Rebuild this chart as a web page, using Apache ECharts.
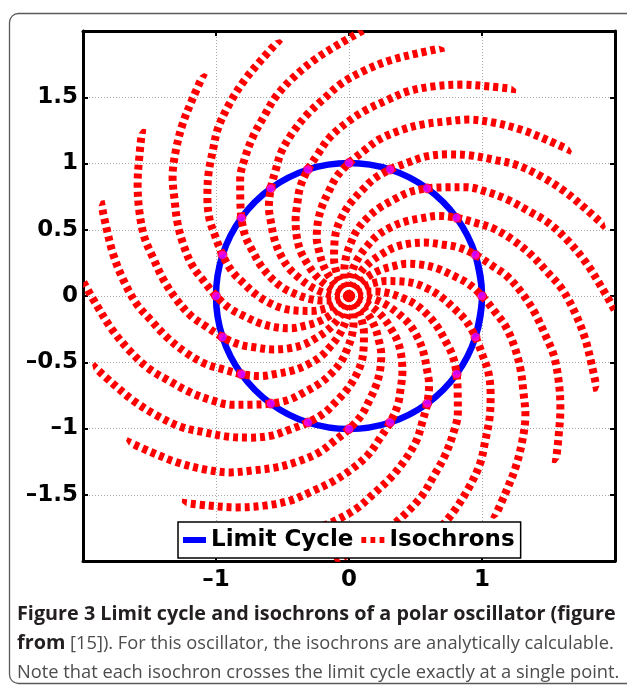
<!DOCTYPE html>
<html>
<head>
<meta charset="utf-8">
<script src="https://cdn.jsdelivr.net/npm/echarts@6/dist/echarts.min.js"></script>
<style>
html,body{margin:0;padding:0;background:#fff;}
#chart{width:627px;height:687px;}
</style>
</head>
<body>
<div id="chart"></div>
<script>
// ---- data ----
// angles (deg) where the 20 isochrons cross the limit cycle (magenta points)
const crossAngles = [0, 18, 36, 54, 72, 90, 108, 126, 144, 162, 180, 198, 216, 234, 252, 270, 288, 306, 324, 342];
// limit cycle radius
const limitCycleRadius = 1;
// isochron profile: radius samples and angular offset (deg) from the crossing angle
const isoRadius = [0, 0.1, 0.2, 0.3, 0.4, 0.5, 0.6, 0.7, 0.8, 0.9, 1.0, 1.1, 1.2, 1.3, 1.4, 1.5, 1.6, 1.7, 1.8, 1.9, 2.0];
const isoTwist  = [57, 52, 46, 40, 34, 29, 23, 17, 11, 6, 0, -6, -11, -17, -23, -29, -34, -40, -46, -52, -57];
// tick labels
const xTickValues = [-1, 0, 1];
const xTickLabels = ['\u20131', '0', '1'];
const yTickValues = [-1.5, -1, -0.5, 0, 0.5, 1, 1.5];
const yTickLabels = ['\u20131.5', '\u20131', '\u20130.5', '0', '0.5', '1', '1.5'];
const legendNames = ['Limit Cycle', 'Isochrons'];
const captionBold1 = 'Figure 3 Limit cycle and isochrons of a polar oscillator (figure';
const captionBold2 = 'from';
const captionReg2 = ' [15]). For this oscillator, the isochrons are analytically calculable.';
const captionReg3 = 'Note that each isochron crosses the limit cycle exactly at a single point.';

// ---- build ----
const chart = echarts.init(document.getElementById('chart'), null, {renderer: 'canvas'});

function labelFor(values, labels) {
  return function (v) {
    for (let i = 0; i < values.length; i++) {
      if (Math.abs(values[i] - v) < 1e-9) return labels[i];
    }
    return '';
  };
}

const circleAngles = [crossAngles[crossAngles.length - 1] - 360].concat(crossAngles, [360, 360 + crossAngles[1]]);
const circleData = circleAngles.map(a => [limitCycleRadius, a]);

const frameLine = {show: true, onZero: false, lineStyle: {color: '#000', width: 3}};
const tick = {show: true, inside: true, length: 5, lineStyle: {color: '#000', width: 2}};
const gridLine = {show: true, lineStyle: {color: '#a8a8a8', width: 1, type: [1, 2]}};
const tickFont = {fontFamily: 'DejaVu Sans', fontWeight: 'bold', fontSize: 23, color: '#000'};

const series = [];
series.push({
  type: 'line', name: legendNames[0], coordinateSystem: 'polar',
  data: circleData, symbol: 'none', smooth: 0.34, silent: true,
  itemStyle: {color: '#0000ff'},
  lineStyle: {color: '#0000ff', width: 6.5}, z: 2
});
crossAngles.forEach(function (a) {
  series.push({
    type: 'line', name: legendNames[1], coordinateSystem: 'polar',
    data: isoRadius.map((r, i) => [r, a + isoTwist[i]]),
    symbol: 'none', smooth: 0.35, silent: true,
    itemStyle: {color: '#ff0000'},
    lineStyle: {color: '#ff0000', width: 8, type: [5, 4], cap: 'butt'}, z: 3
  });
});
series.push({
  type: 'scatter', name: 'crossings', coordinateSystem: 'polar',
  data: crossAngles.map(a => [limitCycleRadius, a]),
  symbol: 'circle', symbolSize: 9, silent: true,
  itemStyle: {color: '#ff00ff', borderColor: '#ff0000', borderWidth: 1}, z: 4
});

const option = {
  animation: false,
  backgroundColor: '#ffffff',
  graphic: [{
    type: 'rect', z: -1, silent: true,
    shape: {x: 9.5, y: 13.5, width: 640, height: 670, r: 9},
    style: {fill: 'none', stroke: '#5a5a5a', lineWidth: 1.3}
  }],
  title: {
    left: 17, top: 599.5, padding: 0,
    text: '{b|' + captionBold1 + '}\n{b|' + captionBold2 + '}{r|' + captionReg2 + '}\n{r|' + captionReg3 + '}',
    textStyle: {
      rich: {
        b: {fontFamily: 'Open Sans', fontWeight: 'bold', fontSize: 19.8, color: '#231f20', lineHeight: 29.5},
        r: {fontFamily: 'Open Sans', fontWeight: 'normal', fontSize: 18.3, color: '#4d4d4d', lineHeight: 29.5}
      }
    }
  },
  grid: {left: 83, top: 31, width: 532, height: 530, show: false},
  xAxis: [{
    type: 'value', min: -2, max: 2, interval: 1, position: 'bottom',
    axisLine: frameLine, axisTick: tick, splitLine: gridLine,
    axisLabel: Object.assign({margin: 8, formatter: labelFor(xTickValues, xTickLabels)}, tickFont)
  }, {
    type: 'value', min: -2, max: 2, interval: 1, position: 'top',
    axisLine: frameLine, axisTick: tick, splitLine: {show: false}, axisLabel: {show: false}
  }],
  yAxis: [{
    type: 'value', min: -2, max: 2, interval: 0.5, position: 'left',
    axisLine: frameLine, axisTick: tick, splitLine: gridLine,
    axisLabel: Object.assign({margin: 5, formatter: labelFor(yTickValues, yTickLabels)}, tickFont)
  }, {
    type: 'value', min: -2, max: 2, interval: 0.5, position: 'right',
    axisLine: frameLine, axisTick: tick, splitLine: {show: false}, axisLabel: {show: false}
  }],
  polar: {center: [349, 296], radius: 266},
  angleAxis: {type: 'value', min: 0, max: 360, startAngle: 0, clockwise: false, show: false},
  radiusAxis: {type: 'value', min: 0, max: 2, show: false},
  legend: {
    data: [
      {name: legendNames[0], icon: 'path://M0,0h24v6h-24z', itemStyle: {color: '#0000ff'}},
      {name: legendNames[1], icon: 'path://M0,0h5v6h-5z M9.5,0h5v6h-5z M19,0h5v6h-5z', itemStyle: {color: '#ff0000'}}
    ],
    left: 178, top: 522, orient: 'horizontal',
    padding: [4, 6, 4, 5], itemGap: 8, itemWidth: 23, itemHeight: 6,
    symbolKeepAspect: false,
    backgroundColor: '#ffffff', borderColor: '#000', borderWidth: 1.5, borderRadius: 0,
    selectedMode: false,
    textStyle: {fontFamily: 'DejaVu Sans', fontWeight: 'bold', fontSize: 23, color: '#000', lineHeight: 28}
  },
  series: series
};
chart.setOption(option);
</script>
</body>
</html>
